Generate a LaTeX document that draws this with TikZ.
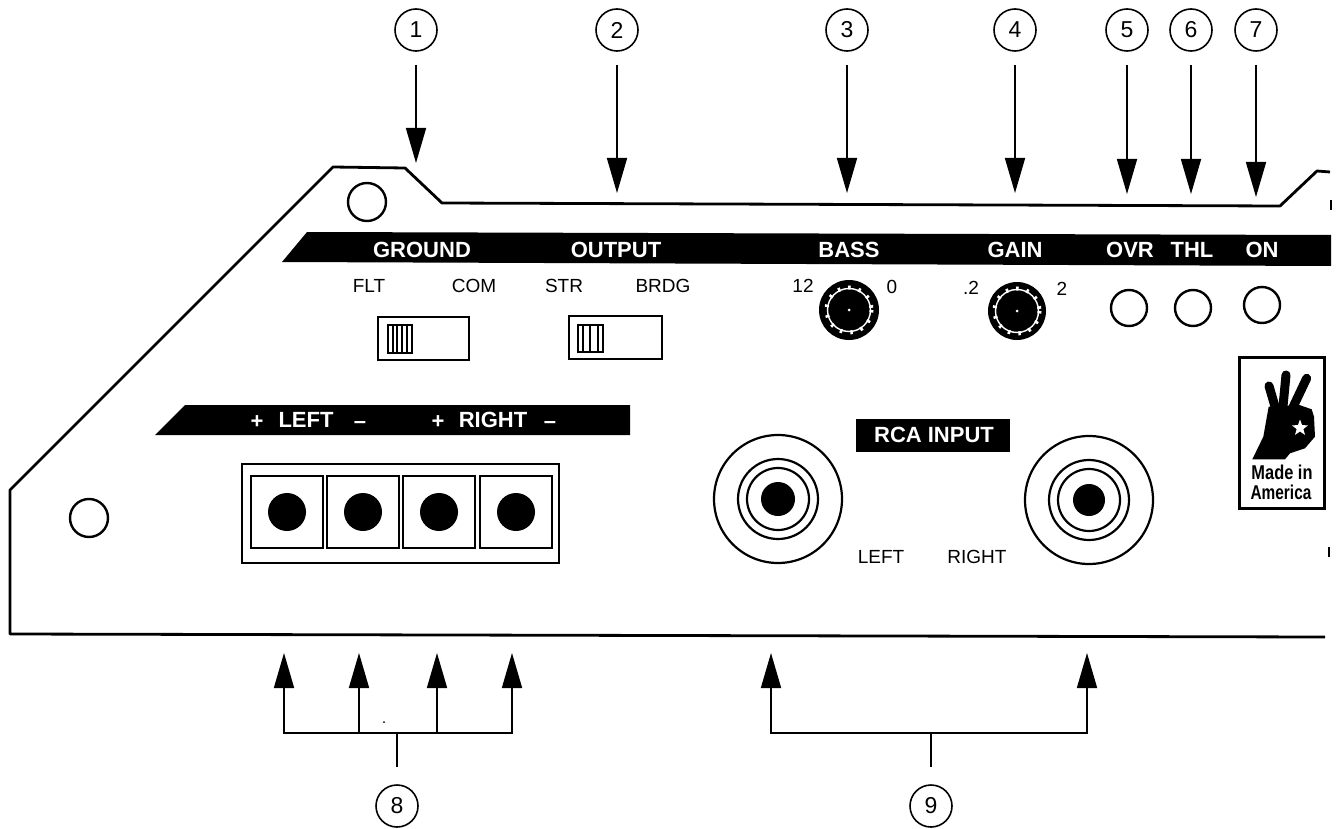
\documentclass[tikz,border=0pt]{standalone}
\usepackage{fontspec}
\setmainfont{Liberation Sans}
\usetikzlibrary{arrows.meta,shapes.geometric}
\tikzset{
  numcircle/.style={draw,circle,line width=1.6pt,minimum size=42pt,inner sep=0pt,font=\fontsize{23}{23}\selectfont},
  pointer/.style={-{Triangle[length=35pt,width=20pt]},line width=1.7pt},
  barlabel/.style={text=white,inner sep=0pt,font=\fontsize{22}{22}\selectfont\bfseries},
  panellabel/.style={inner sep=0pt,font=\fontsize{19}{19}\selectfont},
  badgelabel/.style={inner sep=0pt,font=\fontsize{20}{20}\selectfont\bfseries},
  outline/.style={line width=2.8pt,line join=round},
  hole/.style={line width=2.4pt,fill=white},
}
\begin{document}
\begin{tikzpicture}[x=1pt,y=-1pt]
  \useasboundingbox (0,0) rectangle (1338,829);
  \fill[white] (0,0) rectangle (1338,829);
  % panel edge
  \draw[outline] (1330,172) -- (1317,171) -- (1280,206) -- (442,203) -- (405,168) -- (333,167)
    -- (10,490) -- (10,634) -- (1325,637);
  \draw[line width=2.6pt] (1331,200) -- (1331,210);
  \draw[line width=1.6pt] (1329,547) -- (1329,557);
  \draw[hole] (367,202) circle (19);
  \draw[hole] (89,518) circle (19);
  % top bar
  \fill (282,262) -- (307,232) -- (1331,235) -- (1331,266) -- cycle;
  \node[barlabel] (ground) at (422,250) {GROUND};
  \node[barlabel] (output) at (616,250) {OUTPUT};
  \node[barlabel] (bass) at (849,250) {BASS};
  \node[barlabel] (gain) at (1015,250) {GAIN};
  \node[barlabel] (ovr) at (1130,250) {OVR};
  \node[barlabel] (thl) at (1192,250) {THL};
  \node[barlabel] (on) at (1262,250) {ON};
  % switches
  \node[panellabel] (flt) at (369,286) {FLT};
  \node[panellabel] (com) at (474,286) {COM};
  \node[panellabel] (str) at (564,286) {STR};
  \node[panellabel] (brdg) at (663,286) {BRDG};
  \draw[line width=2.6pt] (378,317) rectangle (469,360);
  \draw[line width=1.2pt] (388,325) rectangle (412,353);
  \draw[line width=1.2pt] (393,325) -- (393,353);
  \draw[line width=1.2pt] (397,325) -- (397,353);
  \draw[line width=1.2pt] (402,325) -- (402,353);
  \draw[line width=1.2pt] (407,325) -- (407,353);
  \draw[line width=2.6pt] (569,316) rectangle (662,359);
  \draw[line width=1.2pt] (578,325) rectangle (603,352);
  \draw[line width=1.2pt] (583,325) -- (583,352);
  \draw[line width=1.2pt] (590,325) -- (590,352);
  \draw[line width=1.2pt] (598,325) -- (598,352);
  % knobs
  \node[panellabel] (twelve) at (803,286) {12};
  \node[panellabel] (zero) at (892,287) {0};
  \node[panellabel] (point) at (971,288) {.2};
  \node[panellabel] (two) at (1062,289) {2};
  \fill (849,310) circle (30);
  \draw[white,line width=1.4pt] (849,310) circle (21.5);
  \draw[white,line width=4pt,dash pattern=on 2.5pt off 8pt] (849,310) circle (22.5);
  \fill[white] (849,310) circle (1.5);
  \fill (1017,311) circle (29);
  \draw[white,line width=1.4pt] (1017,311) circle (21.5);
  \draw[white,line width=4pt,dash pattern=on 2.5pt off 8pt] (1017,311) circle (22.5);
  \fill[white] (1017,311) circle (1.5);
  % lamps
  \draw[hole] (1129,308) circle (18);
  \draw[hole] (1193,308) circle (18);
  \draw[hole] (1262,305) circle (18);
  % badge
  \draw[line width=3pt] (1239,357) rectangle (1324,508);
  \begin{scope}[shift={(1200,170)},x=0.3333pt,y=-0.3333pt]
    \fill (157,868) -- (190,800) -- (206,710) -- (298,705) -- (335,718) -- (342,740) -- (345,800)
      -- (315,835) -- (270,850) -- (255,868) -- cycle;
    \draw[line width=9pt,line cap=round] (207,648) -- (228,720);
    \draw[line width=9pt,line cap=round] (258,615) -- (248,720);
    \draw[line width=9pt,line cap=round] (320,625) -- (275,720);
  \end{scope}
  \node[star,star points=5,star point ratio=2.4,fill=white,minimum size=17pt,inner sep=0pt] (badgestar) at (1300,428) {};
  \node[badgelabel,xscale=0.82] (madein) at (1282,472) {Made in};
  \node[badgelabel,xscale=0.77] (america) at (1281,492) {America};
  % speaker terminals
  \fill (155,435) -- (185,405) -- (630,405) -- (630,435) -- cycle;
  \node[barlabel] (plusl) at (257,422) {+};
  \node[barlabel] (leftlabel) at (306,420) {LEFT};
  \node[barlabel] (minusl) at (360,425) {--};
  \node[barlabel] (plusr) at (438,422) {+};
  \node[barlabel] (rightlabel) at (493,420) {RIGHT};
  \node[barlabel] (minusr) at (550,425) {--};
  \draw[line width=2.6pt] (242,464) rectangle (559,563);
  \draw[line width=1.8pt] (251,476) rectangle (323,548);
  \draw[line width=1.8pt] (327,476) rectangle (399,548);
  \draw[line width=1.8pt] (403,476) rectangle (475,548);
  \draw[line width=1.8pt] (480,476) rectangle (552,548);
  \fill (287,512) circle (19);
  \fill (363,512) circle (19);
  \fill (439,512) circle (19);
  \fill (516,512) circle (19);
  % rca jacks
  \fill (856,419) rectangle (1010,452);
  \node[barlabel] (rca) at (934,435) {RCA INPUT};
  \node[panellabel] (rcaleft) at (881,557) {LEFT};
  \node[panellabel] (rcaright) at (977,557) {RIGHT};
  \draw[line width=2.2pt] (778,499) circle (64);
  \draw[line width=2.2pt] (778,499) circle (40);
  \draw[line width=2.2pt] (778,499) circle (31);
  \fill (778,499) circle (17);
  \draw[line width=2.2pt] (1089,500) circle (64);
  \draw[line width=2.2pt] (1089,500) circle (40);
  \draw[line width=2.2pt] (1089,500) circle (31);
  \fill (1089,500) circle (16);
  % numbered circles
  \node[numcircle] (n1) at (416,30) {1};
  \node[numcircle] (n2) at (617,30) {2};
  \node[numcircle] (n3) at (847,30) {3};
  \node[numcircle] (n4) at (1015,30) {4};
  \node[numcircle] (n5) at (1127,30) {5};
  \node[numcircle] (n6) at (1191,30) {6};
  \node[numcircle] (n7) at (1256,30) {7};
  \node[numcircle] (n8) at (397,806) {8};
  \node[numcircle] (n9) at (931,806) {9};
  % arrows from the top
  \coordinate (tip1) at (416,163);
  \coordinate (tip2) at (617,193);
  \coordinate (tip3) at (847,193);
  \coordinate (tip4) at (1015,193);
  \coordinate (tip5) at (1127,194);
  \coordinate (tip6) at (1191,194);
  \coordinate (tip7) at (1256,197);
  \draw[pointer,shorten <=13pt] (n1) -- (tip1);
  \draw[pointer,shorten <=13pt] (n2) -- (tip2);
  \draw[pointer,shorten <=13pt] (n3) -- (tip3);
  \draw[pointer,shorten <=13pt] (n4) -- (tip4);
  \draw[pointer,shorten <=13pt] (n5) -- (tip5);
  \draw[pointer,shorten <=13pt] (n6) -- (tip6);
  \draw[pointer,shorten <=13pt] (n7) -- (tip7);
  % arrows from the bottom
  \coordinate (join8) at (397,733);
  \coordinate (join9) at (931,733);
  \coordinate (tip8a) at (284,653);
  \coordinate (tip8b) at (359,653);
  \coordinate (tip8c) at (437,653);
  \coordinate (tip8d) at (512,653);
  \coordinate (tip9a) at (771,653);
  \coordinate (tip9b) at (1087,653);
  \draw[line width=1.7pt,shorten <=17pt] (n8) -- (join8);
  \draw[pointer] (join8) -| (tip8a);
  \draw[pointer] (join8) -| (tip8b);
  \draw[pointer] (join8) -| (tip8c);
  \draw[pointer] (join8) -| (tip8d);
  \draw[line width=1.7pt,shorten <=17pt] (n9) -- (join9);
  \draw[pointer] (join9) -| (tip9a);
  \draw[pointer] (join9) -| (tip9b);
  \fill (384,722) circle (1);
\end{tikzpicture}
\end{document}
